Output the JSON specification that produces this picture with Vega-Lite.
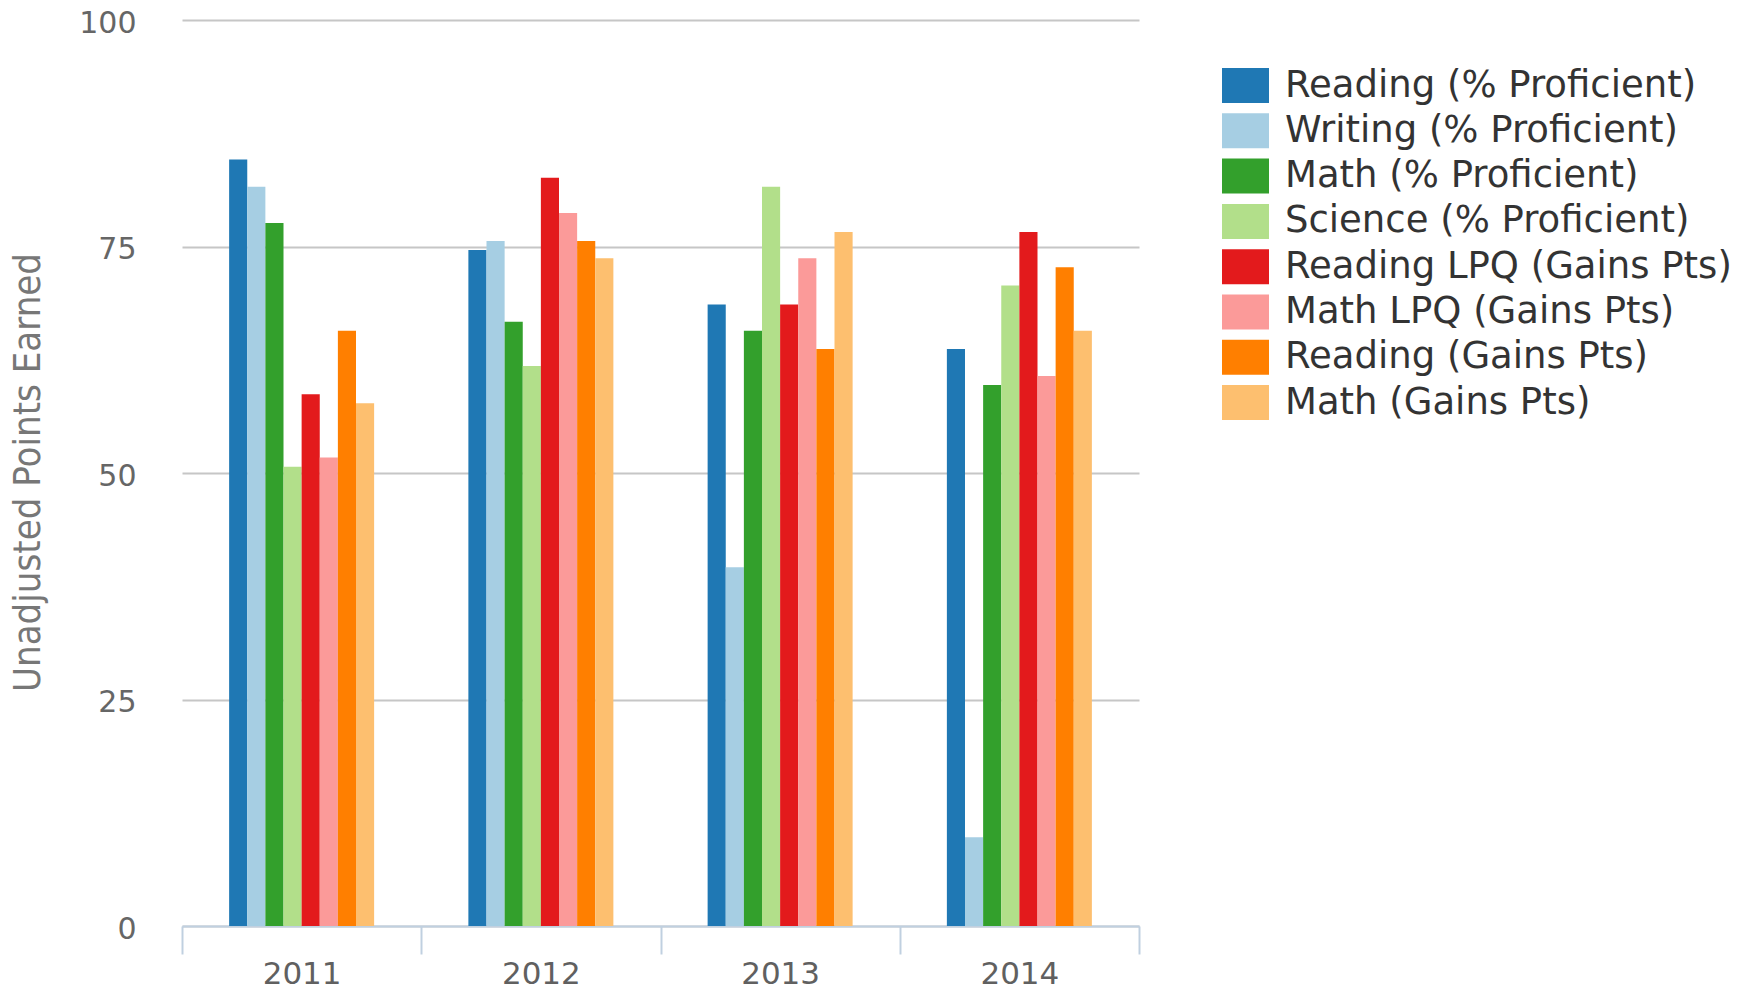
{
  "$schema": "https://vega.github.io/schema/vega-lite/v6.json",
  "width": 957,
  "height": 906,
  "autosize": {"type": "none"},
  "padding": {"left": 182, "top": 20, "right": 603, "bottom": 65},
  "background": "white",
  "config": {"view": {"stroke": null}},
  "data": {
    "values": [
      {"year": "2011", "series": "Reading (% Proficient)", "value": 84.6},
      {"year": "2011", "series": "Writing (% Proficient)", "value": 81.6},
      {"year": "2011", "series": "Math (% Proficient)", "value": 77.6},
      {"year": "2011", "series": "Science (% Proficient)", "value": 50.7},
      {"year": "2011", "series": "Reading LPQ (Gains Pts)", "value": 58.7},
      {"year": "2011", "series": "Math LPQ (Gains Pts)", "value": 51.7},
      {"year": "2011", "series": "Reading (Gains Pts)", "value": 65.7},
      {"year": "2011", "series": "Math (Gains Pts)", "value": 57.7},
      {"year": "2012", "series": "Reading (% Proficient)", "value": 74.6},
      {"year": "2012", "series": "Writing (% Proficient)", "value": 75.6},
      {"year": "2012", "series": "Math (% Proficient)", "value": 66.7},
      {"year": "2012", "series": "Science (% Proficient)", "value": 61.8},
      {"year": "2012", "series": "Reading LPQ (Gains Pts)", "value": 82.6},
      {"year": "2012", "series": "Math LPQ (Gains Pts)", "value": 78.7},
      {"year": "2012", "series": "Reading (Gains Pts)", "value": 75.6},
      {"year": "2012", "series": "Math (Gains Pts)", "value": 73.7},
      {"year": "2013", "series": "Reading (% Proficient)", "value": 68.6},
      {"year": "2013", "series": "Writing (% Proficient)", "value": 39.6},
      {"year": "2013", "series": "Math (% Proficient)", "value": 65.7},
      {"year": "2013", "series": "Science (% Proficient)", "value": 81.6},
      {"year": "2013", "series": "Reading LPQ (Gains Pts)", "value": 68.6},
      {"year": "2013", "series": "Math LPQ (Gains Pts)", "value": 73.7},
      {"year": "2013", "series": "Reading (Gains Pts)", "value": 63.7},
      {"year": "2013", "series": "Math (Gains Pts)", "value": 76.6},
      {"year": "2014", "series": "Reading (% Proficient)", "value": 63.7},
      {"year": "2014", "series": "Writing (% Proficient)", "value": 9.8},
      {"year": "2014", "series": "Math (% Proficient)", "value": 59.7},
      {"year": "2014", "series": "Science (% Proficient)", "value": 70.7},
      {"year": "2014", "series": "Reading LPQ (Gains Pts)", "value": 76.6},
      {"year": "2014", "series": "Math LPQ (Gains Pts)", "value": 60.7},
      {"year": "2014", "series": "Reading (Gains Pts)", "value": 72.7},
      {"year": "2014", "series": "Math (Gains Pts)", "value": 65.7}
    ]
  },
  "mark": {"type": "bar"},
  "encoding": {
    "x": {
      "field": "year",
      "type": "nominal",
      "scale": {"paddingInner": 0, "paddingOuter": 0},
      "axis": {
        "title": null,
        "labelAngle": 0,
        "labelFont": "DejaVu Sans",
        "labelFontSize": 31,
        "labelColor": "#606060",
        "labelPadding": 5,
        "domainColor": "#C0D0E0",
        "domainWidth": 2,
        "tickColor": "#C0D0E0",
        "tickWidth": 2,
        "tickSize": 28,
        "tickBand": "extent",
        "grid": false
      }
    },
    "xOffset": {
      "field": "series",
      "type": "nominal",
      "scale": {
        "domain": ["_p1", "_p2", "Reading (% Proficient)", "Writing (% Proficient)", "Math (% Proficient)", "Science (% Proficient)", "Reading LPQ (Gains Pts)", "Math LPQ (Gains Pts)", "Reading (Gains Pts)", "Math (Gains Pts)", "_p3", "_p4"],
        "paddingInner": 0,
        "paddingOuter": 0.6
      }
    },
    "y": {
      "field": "value",
      "type": "quantitative",
      "scale": {"domain": [0, 100]},
      "axis": {
        "values": [0, 25, 50, 75, 100],
        "grid": true,
        "gridColor": "#C6C6C6",
        "gridWidth": 2,
        "domain": false,
        "ticks": false,
        "labelPadding": 46,
        "labelOffset": 3,
        "labelFont": "DejaVu Sans",
        "labelFontSize": 30,
        "labelColor": "#666666",
        "title": "Unadjusted Points Earned",
        "titleFont": "DejaVu Sans Condensed",
        "titleFontSize": 38,
        "titleFontWeight": "normal",
        "titleColor": "#777777",
        "titleX": -154,
        "titleY": 452,
        "titleAngle": -90,
        "titleBaseline": "middle",
        "titleAlign": "center"
      }
    },
    "color": {
      "field": "series",
      "type": "nominal",
      "scale": {
        "domain": ["Reading (% Proficient)", "Writing (% Proficient)", "Math (% Proficient)", "Science (% Proficient)", "Reading LPQ (Gains Pts)", "Math LPQ (Gains Pts)", "Reading (Gains Pts)", "Math (Gains Pts)"],
        "range": ["#1f78b4", "#a6cee3", "#33a02c", "#b2df8a", "#e31a1c", "#fb9a99", "#ff7f00", "#fdbf6f"]
      },
      "legend": {
        "title": null,
        "orient": "none",
        "legendX": 1040,
        "legendY": 42,
        "padding": 0,
        "symbolType": "M-1,-0.745H1V0.745H-1Z",
        "symbolSize": 2209,
        "symbolStrokeWidth": 0,
        "symbolOpacity": 1,
        "labelFont": "DejaVu Sans",
        "labelFontSize": 37,
        "labelColor": "#333333",
        "labelOffset": 16,
        "labelLimit": 600,
        "rowPadding": 3.3
      }
    }
  }
}
